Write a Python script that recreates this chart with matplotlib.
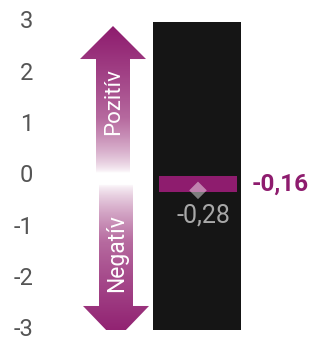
import numpy as np
import matplotlib.pyplot as plt
from matplotlib.patches import Polygon
from matplotlib.colors import LinearSegmentedColormap

# data
yticks = [3, 2, 1, 0, -1, -2, -3]
ytick_labels = ['3', '2', '1', '0', '-1', '-2', '-3']
value = -0.16
value_label = '-0,16'
reference = -0.28
reference_label = '-0,28'

magenta = '#8e1c6e'
plt.rcParams['font.family'] = ['Roboto', 'DejaVu Sans']

fig = plt.figure(figsize=(3.13, 3.40), dpi=100)
# axes x in pixel units, y in data units
ax = fig.add_axes([40 / 313, 10 / 340, 273 / 313, 308 / 340])
ax.set_xlim(40, 313)
ax.set_ylim(-3, 3)
ax.axis('off')

# y tick labels
for t, lab in zip(yticks, ytick_labels):
    ax.text(33, t, lab, ha='right', va='center', fontsize=17, color='#555555',
            clip_on=False)

# dark column
ax.bar(197, 6, bottom=-3, width=88, color='#151515', zorder=1)

# value band
ax.bar(198, 0.31, bottom=value - 0.155, width=78, color=magenta, zorder=2)
ax.text(252, value, value_label, ha='left', va='center', fontsize=17.5,
        fontweight='bold', color=magenta, zorder=4)

# reference marker
ax.scatter([198], [reference], marker='D', s=80, color='white', alpha=0.45,
           edgecolors='none', zorder=3)
ax.text(203, reference - 0.26, reference_label, ha='center', va='top',
        fontsize=18, color='#a8a8a8', zorder=4)

# gradient arrows
u = 1 / 51.3  # pixel -> data
cmap = LinearSegmentedColormap.from_list('fade', ['white', '#b66a9f', magenta])

def arrow(cx, y0, base, tip, shaft_w, head_w):
    pts = [(cx - shaft_w / 2, y0), (cx + shaft_w / 2, y0),
           (cx + shaft_w / 2, base), (cx + head_w / 2, base),
           (cx, tip), (cx - head_w / 2, base), (cx - shaft_w / 2, base)]
    poly = Polygon(pts, closed=True, facecolor='none', edgecolor='none')
    ax.add_patch(poly)
    lo, hi = min(y0, tip), max(y0, tip)
    grad = np.linspace(0, 1, 256).reshape(-1, 1)
    if tip < y0:
        grad = grad[::-1]
    grad = grad ** 0.7
    im = ax.imshow(grad, cmap=cmap, aspect='auto', origin='lower',
                   extent=[cx - head_w / 2, cx + head_w / 2, lo, hi],
                   zorder=2)
    im.set_clip_path(poly)

arrow(113, 0.06, 3 - 37 * u, 3 - 4 * u, 34, 66)
arrow(116, -0.17, -3 + 24 * u, -3.2, 34, 66)
ax.set_xlim(40, 313)
ax.set_ylim(-3, 3)

ax.text(114, 1.45, 'Pozitív', rotation=90, ha='center', va='center',
        fontsize=16, color='white', zorder=4)
ax.text(117, -1.5, 'Negatív', rotation=90, ha='center', va='center',
        fontsize=16.5, color='white', zorder=4)

fig.savefig('out.png', dpi=100)
